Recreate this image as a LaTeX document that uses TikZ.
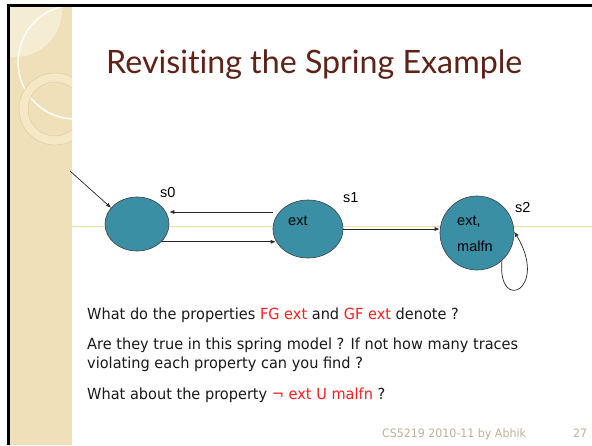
\documentclass[tikz,border=0pt]{standalone}
\usepackage{fontspec}
\usetikzlibrary{shapes.geometric,arrows.meta}
\newfontfamily\titlefont[Ligatures={NoCommon}]{Lato}
\newfontfamily\bodyfont[FakeStretch=0.95]{DejaVu Sans}
\newfontfamily\labelfont{Liberation Sans}
\definecolor{panelbeige}{RGB}{239,224,186}
\definecolor{panellight}{RGB}{245,236,212}
\definecolor{ringfill}{RGB}{246,232,196}
\definecolor{ringline}{RGB}{222,205,165}
\definecolor{rule}{RGB}{245,221,164}
\definecolor{titlebrown}{RGB}{94,34,22}
\definecolor{stateteal}{RGB}{58,143,165}
\definecolor{bodyblack}{RGB}{26,26,26}
\definecolor{hilite}{RGB}{250,30,30}
\definecolor{footer}{RGB}{190,178,150}
\begin{document}
\begin{tikzpicture}[x=1pt,y=-1pt,
  state/.style={ellipse, draw=black!75, line width=0.6pt, fill=stateteal, inner sep=0pt},
  edge/.style={draw=black!85, line width=0.7pt, -{Latex[length=5pt,width=4pt]}},
  lbl/.style={font=\labelfont\fontsize{14.5}{16}\selectfont, text=black, inner sep=0pt, anchor=base west},
  body/.style={font=\bodyfont\fontsize{15.3}{18}\selectfont, text=bodyblack, inner sep=0pt, anchor=base west},
  foot/.style={font=\bodyfont\fontsize{11.6}{13}\selectfont, text=footer, inner sep=0pt, anchor=base west},
]
\useasboundingbox (0,0) rectangle (592,445);
\fill[white] (0,0) rectangle (592,445);

% decorated side panel
\fill[panelbeige] (9,7) rectangle (72,445);
\begin{scope}
  \clip (9,7) rectangle (72,445);
  \fill[panellight] (15,10) circle (47pt);
  \draw[white, line width=1.4pt] (75,62) circle (57pt);
  \fill[ringfill, even odd rule] (55,109) circle (36pt) (55,109) circle (27pt);
  \draw[ringline, line width=0.5pt] (55,109) circle (36pt) (55,109) circle (27pt);
\end{scope}

% frame edges
\draw[black, line width=2.4pt] (8.5,445) -- (8.5,5.5) -- (592,5.5);

% horizontal rule behind the states
\draw[rule, line width=0.9pt] (72,226) -- (592,226);

% title
\node[font=\titlefont\fontsize{32.2}{36}\selectfont, text=titlebrown, inner sep=0pt, anchor=base west] (title) at (106,73) {Revisiting the Spring Example};

% states
\node[state, minimum width=64pt, minimum height=54pt] (s0) at (137,224) {};
\node[state, minimum width=70pt, minimum height=58pt] (s1) at (308,229) {};
\node[state, minimum width=74pt, minimum height=74pt] (s2) at (477,233) {};

\node[lbl] (s0name) at (160,197) {s0};
\node[lbl] (s1name) at (343,202) {s1};
\node[lbl] (s2name) at (515,212) {s2};
\node[lbl] (s1prop) at (288,225) {ext};
\node[lbl] (s2propa) at (457,225) {ext,};
\node[lbl] (s2propb) at (457,251) {malfn};

% transitions
\coordinate (init) at (70,171);
\draw[edge] (init) -- (s0.148);
\draw[edge] ([yshift=17pt]s1.west) -- ([yshift=17pt]s1.west -| s0.east);
\draw[edge] (s0.-36) -- (s0.-36 -| s1.200);
\draw[edge] (s1.east) -- (s1.east -| s2.west);
\draw[edge] (s2.-48) .. controls +(-5,53) and +(35,58) .. (s2.2);

% questions
\node[body] (q1) at (87,319) {What do the properties \textcolor{hilite}{FG ext} and \textcolor{hilite}{GF ext} denote ?};
\node[body] (q2) at (87,349) {Are they true in this spring model ? If not how many traces};
\node[body] (q3) at (87,368) {violating each property can you find ?};
\node[body] (q4) at (87,399) {What about the property \textcolor{hilite}{¬ ext U malfn} ?};

% footer
\node[foot] (credit) at (382,437) {CS5219 2010-11 by Abhik};
\node[foot] (page) at (573,437) {27};
\end{tikzpicture}
\end{document}
